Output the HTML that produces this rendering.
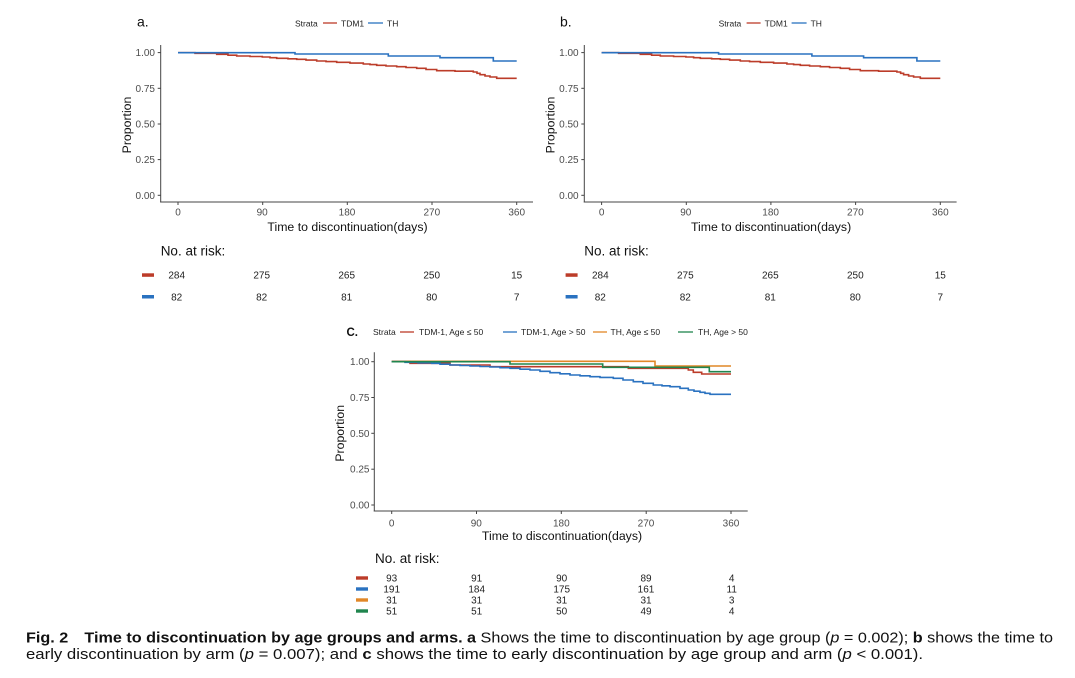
<!DOCTYPE html>
<html>
<head>
<meta charset="utf-8">
<style>
html,body{margin:0;padding:0;background:#fff;}
svg{display:block;}
text{font-family:"Liberation Sans",Arial,sans-serif;}
.tk{font-size:10px;fill:#4d4d4d;}
.ttl{font-size:12.3px;fill:#111;}
.lg{font-size:8.5px;fill:#222;}
.risk{font-size:10px;fill:#222;}
.nar{font-size:13.5px;fill:#111;}
.ax{stroke:#444;stroke-width:1;fill:none;}
.cv{fill:none;stroke-width:1.6;stroke-linejoin:miter;}
.cap{font-size:15px;fill:#111;}
</style>
</head>
<body>
<svg width="1075" height="678" viewBox="0 0 1075 678" xmlns="http://www.w3.org/2000/svg">
<rect width="1075" height="678" fill="#fff"/>

<!-- Panel a template -->
<g id="pa">
  <text class="lg" x="295" y="26.5">Strata</text>
  <line x1="323" y1="23" x2="337" y2="23" stroke="#BC3C29" stroke-width="1.3"/>
  <text class="lg" x="341" y="26.5">TDM1</text>
  <line x1="368" y1="23" x2="383" y2="23" stroke="#2A72C0" stroke-width="1.3"/>
  <text class="lg" x="387" y="26.5">TH</text>
  <line class="ax" x1="160.7" y1="45" x2="160.7" y2="202.5"/>
  <line class="ax" x1="160.2" y1="202" x2="533" y2="202"/>
  <g stroke="#444" stroke-width="1">
    <line x1="157.7" y1="52.6" x2="160.7" y2="52.6"/>
    <line x1="157.7" y1="88.3" x2="160.7" y2="88.3"/>
    <line x1="157.7" y1="124" x2="160.7" y2="124"/>
    <line x1="157.7" y1="159.6" x2="160.7" y2="159.6"/>
    <line x1="157.7" y1="195.3" x2="160.7" y2="195.3"/>
    <line x1="178" y1="202" x2="178" y2="205"/>
    <line x1="262.7" y1="202" x2="262.7" y2="205"/>
    <line x1="347.3" y1="202" x2="347.3" y2="205"/>
    <line x1="432" y1="202" x2="432" y2="205"/>
    <line x1="516.7" y1="202" x2="516.7" y2="205"/>
  </g>
  <g class="tk" text-anchor="end">
    <text x="155" y="56">1.00</text>
    <text x="155" y="91.8">0.75</text>
    <text x="155" y="127.5">0.50</text>
    <text x="155" y="163.1">0.25</text>
    <text x="155" y="198.8">0.00</text>
  </g>
  <g class="tk" text-anchor="middle">
    <text x="178" y="215.3">0</text>
    <text x="262.2" y="215.3">90</text>
    <text x="347" y="215.3">180</text>
    <text x="431.8" y="215.3">270</text>
    <text x="516.7" y="215.3">360</text>
  </g>
  <text class="ttl" x="347.5" y="231" text-anchor="middle">Time to discontinuation(days)</text>
  <text class="ttl" transform="translate(131,125) rotate(-90)" text-anchor="middle">Proportion</text>
  <path class="cv" stroke="#BC3C29" d="M178,52.7 H195 V53.3 H216.7 V54.3 H228 V55.2 H236.7 V56 H250 V56.5 H262.3 V57 H270 V57.7 H276.7 V58.3 H288 V58.8 H296.7 V59.3 H306 V60.1 H316.7 V61 H326 V61.6 H336.7 V62.3 H350 V63.1 H363.3 V64 H370 V64.6 H376.7 V65.3 H386 V66 H396.7 V66.7 H406 V67.5 H416.7 V68.3 H426 V69.5 H436.7 V70.7 H455 V71.2 H473.3 V72 H477 V73.3 H480 V74.7 H485 V76 H490 V77 H496.7 V78.3 H516.7"/>
  <path class="cv" stroke="#2A72C0" d="M178,52.7 H295 V54 H388.3 V56 H440 V57.7 H493.3 V61 H516.7"/>
  <text class="nar" x="160.7" y="255.5">No. at risk:</text>
  <rect x="142" y="273.3" width="12" height="3.5" fill="#BC3C29"/>
  <rect x="142" y="295" width="12" height="3.5" fill="#2A72C0"/>
  <g class="risk" text-anchor="middle">
    <text x="176.7" y="278.6">284</text>
    <text x="261.7" y="278.6">275</text>
    <text x="346.7" y="278.6">265</text>
    <text x="431.7" y="278.6">250</text>
    <text x="516.7" y="278.6">15</text>
    <text x="176.7" y="300.3">82</text>
    <text x="261.7" y="300.3">82</text>
    <text x="346.7" y="300.3">81</text>
    <text x="431.7" y="300.3">80</text>
    <text x="516.7" y="300.3">7</text>
  </g>
</g>
<text x="137" y="26.7" font-size="14" fill="#111">a.</text>

<use href="#pa" transform="translate(423.6,0)"/>
<text x="560" y="26.7" font-size="14" fill="#111">b.</text>

<!-- Panel c -->
<g>
  <text x="346.5" y="336" font-size="11.5" font-weight="bold" fill="#111">C.</text>
  <text class="lg" x="373" y="335">Strata</text>
  <line x1="400" y1="332" x2="414" y2="332" stroke="#BC3C29" stroke-width="1.3"/>
  <text class="lg" x="419" y="335">TDM-1, Age ≤ 50</text>
  <line x1="503" y1="332" x2="517" y2="332" stroke="#2A72C0" stroke-width="1.3"/>
  <text class="lg" x="521" y="335">TDM-1, Age &gt; 50</text>
  <line x1="593" y1="332" x2="607" y2="332" stroke="#E18727" stroke-width="1.3"/>
  <text class="lg" x="610.5" y="335">TH, Age ≤ 50</text>
  <line x1="678" y1="332" x2="693" y2="332" stroke="#20854E" stroke-width="1.3"/>
  <text class="lg" x="698" y="335">TH, Age &gt; 50</text>

  <line class="ax" x1="374.3" y1="352.3" x2="374.3" y2="511.5"/>
  <line class="ax" x1="373.8" y1="511" x2="747.7" y2="511"/>
  <g stroke="#444" stroke-width="1">
    <line x1="371.3" y1="361.7" x2="374.3" y2="361.7"/>
    <line x1="371.3" y1="397.5" x2="374.3" y2="397.5"/>
    <line x1="371.3" y1="433.3" x2="374.3" y2="433.3"/>
    <line x1="371.3" y1="469.2" x2="374.3" y2="469.2"/>
    <line x1="371.3" y1="505" x2="374.3" y2="505"/>
    <line x1="391.7" y1="511" x2="391.7" y2="514"/>
    <line x1="476.5" y1="511" x2="476.5" y2="514"/>
    <line x1="561.3" y1="511" x2="561.3" y2="514"/>
    <line x1="646.2" y1="511" x2="646.2" y2="514"/>
    <line x1="731" y1="511" x2="731" y2="514"/>
  </g>
  <g class="tk" text-anchor="end">
    <text x="369.5" y="365.2">1.00</text>
    <text x="369.5" y="401">0.75</text>
    <text x="369.5" y="436.8">0.50</text>
    <text x="369.5" y="472.7">0.25</text>
    <text x="369.5" y="508.5">0.00</text>
  </g>
  <g class="tk" text-anchor="middle">
    <text x="391.7" y="526.5">0</text>
    <text x="476.3" y="526.5">90</text>
    <text x="561.3" y="526.5">180</text>
    <text x="646" y="526.5">270</text>
    <text x="731" y="526.5">360</text>
  </g>
  <text class="ttl" x="562" y="540" text-anchor="middle">Time to discontinuation(days)</text>
  <text class="ttl" transform="translate(344,433.3) rotate(-90)" text-anchor="middle">Proportion</text>

  <path class="cv" stroke="#E18727" d="M391.7,361.3 H655 V366 H731"/>
  <path class="cv" stroke="#BC3C29" d="M391.7,361.7 H410 V363.3 H450 V365 H490 V366.7 H628.3 V368.3 H688.3 V370 H693.3 V372.3 H701.7 V374 H731"/>
  <path class="cv" stroke="#2A72C0" d="M391.7,361.7 H405 V362.3 H418 V362.8 H431.7 V363.3 H440 V364.2 H450 V365 H460 V365.5 H470 V366 H480 V366.5 H490 V367 H500 V367.7 H510 V368.3 H520 V369.2 H530 V370 H540 V371.3 H550 V372.7 H560 V373.8 H570 V375 H580 V375.8 H590 V376.7 H600 V377.4 H613.3 V378.3 H623 V380 H633.3 V381.7 H643 V383.3 H653.3 V385 H662 V385.8 H670 V386.7 H680 V388.3 H688.3 V390 H694 V391.2 H700 V392.3 H705 V393.3 H710 V394.3 H731"/>
  <path class="cv" stroke="#20854E" d="M391.7,361.7 H510 V364 H602.7 V367.3 H709.3 V371.7 H731"/>

  <text class="nar" x="375" y="563">No. at risk:</text>
  <rect x="356" y="576.3" width="12" height="3.4" fill="#BC3C29"/>
  <rect x="356" y="587.3" width="12" height="3.4" fill="#2A72C0"/>
  <rect x="356" y="598.3" width="12" height="3.4" fill="#E18727"/>
  <rect x="356" y="609.3" width="12" height="3.4" fill="#20854E"/>
  <g class="risk" text-anchor="middle">
    <text x="391.7" y="581.6">93</text>
    <text x="476.7" y="581.6">91</text>
    <text x="561.7" y="581.6">90</text>
    <text x="646" y="581.6">89</text>
    <text x="731.7" y="581.6">4</text>
    <text x="391.7" y="592.6">191</text>
    <text x="476.7" y="592.6">184</text>
    <text x="561.7" y="592.6">175</text>
    <text x="646" y="592.6">161</text>
    <text x="731.7" y="592.6">11</text>
    <text x="391.7" y="603.6">31</text>
    <text x="476.7" y="603.6">31</text>
    <text x="561.7" y="603.6">31</text>
    <text x="646" y="603.6">31</text>
    <text x="731.7" y="603.6">3</text>
    <text x="391.7" y="614.6">51</text>
    <text x="476.7" y="614.6">51</text>
    <text x="561.7" y="614.6">50</text>
    <text x="646" y="614.6">49</text>
    <text x="731.7" y="614.6">4</text>
  </g>
</g>

<!-- Caption -->
<text class="cap" x="26" y="642.3" textLength="1027" lengthAdjust="spacingAndGlyphs"><tspan font-weight="bold">Fig. 2</tspan><tspan font-weight="bold" dx="15">Time to discontinuation by age groups and arms. a</tspan> Shows the time to discontinuation by age group (<tspan font-style="italic">p</tspan> = 0.002); <tspan font-weight="bold">b</tspan> shows the time to</text>
<text class="cap" x="26" y="659" textLength="897" lengthAdjust="spacingAndGlyphs">early discontinuation by arm (<tspan font-style="italic">p</tspan> = 0.007); and <tspan font-weight="bold">c</tspan> shows the time to early discontinuation by age group and arm (<tspan font-style="italic">p</tspan> &lt; 0.001).</text>
</svg>
</body>
</html>
